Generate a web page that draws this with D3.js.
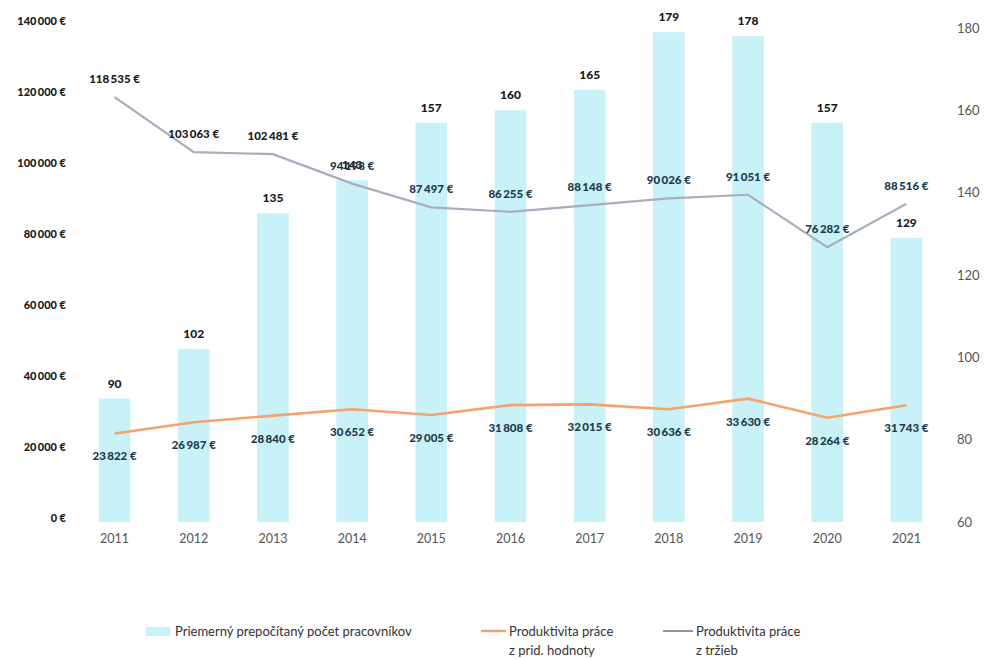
<!DOCTYPE html>
<html>
<head>
<meta charset="utf-8">
<script src="https://cdn.jsdelivr.net/npm/d3@7"></script>
<style>
  body { margin: 0; background: #fff; }
  svg text { font-family: Lato, "Open Sans", sans-serif; }
</style>
</head>
<body>
<script>
const years = ["2011","2012","2013","2014","2015","2016","2017","2018","2019","2020","2021"];
const workers = [90, 102, 135, 143, 157, 160, 165, 179, 178, 157, 129];
const prodValueAdded = [23822, 26987, 28840, 30652, 29005, 31808, 32015, 30636, 33630, 28264, 31743];
const prodRevenue = [118535, 103063, 102481, 94198, 87497, 86255, 88148, 90026, 91051, 76282, 88516];
const leftTicks = [0, 20000, 40000, 60000, 80000, 100000, 120000, 140000];
const rightTicks = [60, 80, 100, 120, 140, 160, 180];

const width = 988, height = 659;
const svg = d3.select("body").append("svg").attr("width", width).attr("height", height);

const x = d3.scaleBand().domain(years).range([75, 946]).paddingInner(0.6).paddingOuter(0.3);
const yLeft = d3.scaleLinear().domain([0, 140000]).range([518, 21]);
const yRight = d3.scaleLinear().domain([60, 180]).range([522, 28]);

const fmt = v => d3.format(",")(v).replace(/,/g, "\u2009") + " \u20ac";

// left axis
const leftAxis = svg.append("g").attr("transform", "translate(66,0)")
  .call(d3.axisLeft(yLeft).tickValues(leftTicks).tickSize(0).tickPadding(0)
    .tickFormat(d => d3.format(",")(d).replace(/,/g, "\u2009") + " \u20ac"));
leftAxis.select(".domain").remove();
leftAxis.selectAll("text").attr("font-size", 11).attr("font-weight", 900).attr("fill", "#1a1a1a");

// right axis
const rightAxis = svg.append("g").attr("transform", "translate(957,0)")
  .call(d3.axisRight(yRight).tickValues(rightTicks).tickSize(0).tickPadding(0));
rightAxis.select(".domain").remove();
rightAxis.selectAll("text").attr("font-size", 13).attr("fill", "#555");

// x axis
const xAxis = svg.append("g").attr("transform", "translate(0,532)")
  .call(d3.axisBottom(x).tickSize(0).tickPadding(0));
xAxis.select(".domain").remove();
xAxis.selectAll("text").attr("font-size", 12.5).attr("fill", "#555").attr("dy", "0.9em");

// bars
svg.selectAll("rect.bar").data(years).enter().append("rect")
  .attr("class", "bar")
  .attr("x", d => x(d))
  .attr("width", x.bandwidth())
  .attr("y", (d, i) => yRight(workers[i]))
  .attr("height", (d, i) => yRight(60) - yRight(workers[i]))
  .attr("fill", "#c9f1f8");

const cx = d => x(d) + x.bandwidth() / 2;

// lines
const line = d3.line().x(d => cx(d[0])).y(d => yLeft(d[1]));
svg.append("path").datum(years.map((y, i) => [y, prodRevenue[i]]))
  .attr("d", line).attr("fill", "none").attr("stroke", "#a9adbd").attr("stroke-width", 2.2);
svg.append("path").datum(years.map((y, i) => [y, prodValueAdded[i]]))
  .attr("d", line).attr("fill", "none").attr("stroke", "#f5a26e").attr("stroke-width", 2.6);

// bar labels
svg.selectAll("text.barlab").data(years).enter().append("text")
  .attr("class", "barlab")
  .attr("x", cx)
  .attr("y", (d, i) => yRight(workers[i]) - 11)
  .attr("text-anchor", "middle").attr("font-size", 12).attr("font-weight", 900).attr("fill", "#1a1a1a")
  .text((d, i) => workers[i]);

// revenue labels
svg.selectAll("text.revlab").data(years).enter().append("text")
  .attr("class", "revlab")
  .attr("x", cx)
  .attr("y", (d, i) => yLeft(prodRevenue[i]) - 14)
  .attr("text-anchor", "middle").attr("font-size", 11.5).attr("font-weight", 900)
  .attr("fill", (d, i) => i < 3 ? "#1a1a1a" : "#1e3a4c")
  .text((d, i) => fmt(prodRevenue[i]));

// value-added labels
svg.selectAll("text.valab").data(years).enter().append("text")
  .attr("class", "valab")
  .attr("x", cx)
  .attr("y", (d, i) => yLeft(prodValueAdded[i]) + 27)
  .attr("text-anchor", "middle").attr("font-size", 11.5).attr("font-weight", 900).attr("fill", "#1e3a4c")
  .text((d, i) => fmt(prodValueAdded[i]));

// legend
const lg = svg.append("g").attr("font-size", 13).attr("fill", "#333");
lg.append("rect").attr("x", 146).attr("y", 627).attr("width", 24).attr("height", 9).attr("fill", "#c9f1f8");
lg.append("text").attr("x", 175).attr("y", 636).attr("fill", "#333").text("Priemerný prepočítaný počet pracovníkov");

lg.append("line").attr("x1", 481).attr("x2", 506).attr("y1", 631).attr("y2", 631)
  .attr("stroke", "#f5a26e").attr("stroke-width", 2.5);
lg.append("text").attr("x", 509).attr("y", 636).attr("fill", "#333").text("Produktivita práce");
lg.append("text").attr("x", 509).attr("y", 655).attr("fill", "#333").text("z prid. hodnoty");

lg.append("line").attr("x1", 663).attr("x2", 693).attr("y1", 631).attr("y2", 631)
  .attr("stroke", "#6a7080").attr("stroke-width", 1.5);
lg.append("text").attr("x", 696).attr("y", 636).attr("fill", "#333").text("Produktivita práce");
lg.append("text").attr("x", 696).attr("y", 655).attr("fill", "#333").text("z tržieb");
</script>
</body>
</html>
